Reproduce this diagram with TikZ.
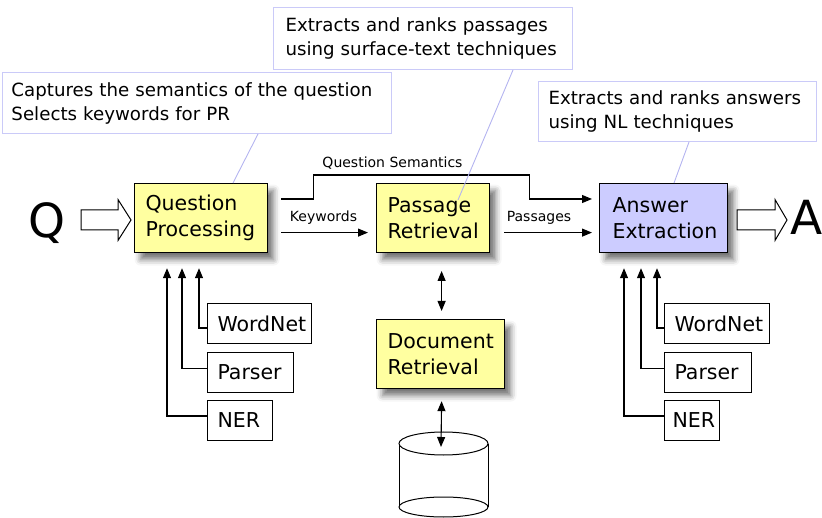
\documentclass[tikz,border=0pt]{standalone}
\usepackage{fontspec}
\setmainfont{DejaVu Sans}
\usetikzlibrary{arrows.meta,calc,shadows.blur}
\definecolor{boxyellow}{HTML}{FFFFA0}
\definecolor{boxblue}{HTML}{CCCCFF}
\definecolor{callline}{HTML}{CACAF8}
\definecolor{pointline}{HTML}{B4B4F0}
\hyphenpenalty=10000
\exhyphenpenalty=10000
\tikzset{
  procbox/.style={draw=black, line width=1.2pt, align=left, inner ysep=0pt,
    minimum height=69pt, anchor=north west,
    font=\fontsize{20.5}{26}\selectfont,
    blur shadow={shadow xshift=6pt, shadow yshift=-7pt, shadow blur radius=6pt, shadow opacity=55}},
  resbox/.style={draw=black, line width=1pt, align=left, inner ysep=0pt,
    minimum height=40pt, anchor=north west, font=\fontsize{20.5}{24}\selectfont},
  callout/.style={draw=callline, line width=1pt, align=left, inner ysep=0pt,
    anchor=north west, fill=white, font=\fontsize{18.2}{24}\selectfont},
  flow/.style={line width=1.1pt, -{Triangle[length=10pt,width=8pt]}},
  biflow/.style={line width=1.1pt, {Triangle[length=10pt,width=8pt]}-{Triangle[length=10pt,width=8pt]}},
  pointer/.style={draw=pointline, line width=0.9pt},
  blockarrow/.style={draw=black, line width=1pt, fill=white, line join=miter},
  lbl/.style={font=\fontsize{14}{16}\selectfont, inner sep=0pt, anchor=base},
  bigletter/.style={font=\fontsize{47}{50}\selectfont, inner sep=0pt, anchor=base}
}
\begin{document}
\hyphenpenalty=10000
\exhyphenpenalty=10000
\begin{tikzpicture}[x=1pt,y=-1pt]
\useasboundingbox (0,0) rectangle (822,518);

% callouts
\node[callout, text width=371pt, inner xsep=9pt, minimum height=61pt] (c1) at (2,72)
  {Captures the semantics of the question\\Selects keywords for PR};
\node[callout, text width=281pt, inner xsep=9pt, minimum height=62pt] (c2) at (273,7)
  {\hspace*{3pt}Extracts and ranks passages\\\hspace*{3pt}using surface-text techniques};
\node[callout, text width=264pt, inner xsep=7pt, minimum height=60pt] (c3) at (538,81)
  {\hspace*{3pt}Extracts and ranks answers\\\hspace*{3pt}using NL techniques};

% main boxes
\node[procbox, fill=boxyellow, inner xsep=11pt, text width=111pt] (qp) at (134,183) {Question\\Processing};
\node[procbox, fill=boxyellow, inner xsep=11pt, text width=91pt] (pr) at (376,183) {Passage\\Retrieval};
\node[procbox, fill=boxblue, inner xsep=13pt, text width=102pt] (ae) at (599,183) {Answer\\Extraction};
\node[procbox, fill=boxyellow, inner xsep=11pt, text width=106pt] (dr) at (376,319) {Document\\Retrieval};

% Q and A
\node[bigletter] (q) at (46.5,238) {Q};
\node[bigletter, anchor=base west] (a) at (790,235) {A};
\draw[blockarrow] (81,210) -- (118,210) -- (118,199.5) -- (131,220) -- (118,240.5) -- (118,230) -- (81,230) -- cycle;
\draw[blockarrow] (737,210) -- (775,210) -- (775,199.5) -- (787,220) -- (775,240.5) -- (775,230) -- (737,230) -- cycle;

% flows between boxes
\draw[flow] ($(qp.north east)+(13,16)$) -- ++(32,0) -- ++(0,-24) -| ($(pr.north east)+(39,16)$)
  -- ($(ae.north west)+(-7,16)$);
\node[lbl] (qslbl) at (392.5,168) {Question Semantics};
\draw[flow] ($(qp.east)+(13,14.5)$) -- ($(pr.west)+(-8,14.5)$);
\node[lbl] (kwlbl) at (323.5,222) {Keywords};
\draw[flow] ($(pr.east)+(14,14.5)$) -- ($(ae.west)+(-7,14.5)$);
\node[lbl] (pslbl) at (539,222) {Passages};

% passage <-> document
\draw[biflow] ($(dr.north)+(1,-48)$) -- ($(dr.north)+(1,-8)$);

% database cylinder
\coordinate (db) at (443.5,443.5);
\fill[white] (399,443.5) rectangle (488,507);
\draw[line width=1pt] (399,443.5) -- (399,507);
\draw[line width=1pt] (488,443.5) -- (488,507);
\draw[line width=1pt, fill=white] (443.5,507) ellipse [x radius=44.5pt, y radius=10pt];
\draw[line width=1pt, fill=white] (db) ellipse [x radius=44.5pt, y radius=11.5pt];
\draw[biflow] ($(dr.south)+(1,12)$) -- ($(db)+(-2.5,3.5)$);

% resources left
\node[resbox, inner xsep=10pt, text width=84pt] (wnL) at (207,303) {WordNet};
\node[resbox, inner xsep=10pt, text width=66pt] (paL) at (207,352) {Parser};
\node[resbox, inner xsep=10pt, text width=45pt] (neL) at (207,400) {NER};
\draw[flow] ($(wnL.west)+(0,4.5)$) -| ($(qp.south west)+(65,15)$);
\draw[flow] ($(paL.west)+(0,-4)$) -| ($(qp.south west)+(48,15)$);
\draw[flow] ($(neL.west)+(0,-4.5)$) -| ($(qp.south west)+(33,15)$);

% resources right
\node[resbox, inner xsep=10pt, text width=85pt] (wnR) at (664,303) {WordNet};
\node[resbox, inner xsep=10pt, text width=67pt] (paR) at (664,352) {Parser};
\node[resbox, inner xsep=8pt, text width=39pt] (neR) at (664,400) {NER};
\draw[flow] ($(wnR.west)+(0,4.5)$) -| ($(ae.south west)+(58,15)$);
\draw[flow] ($(paR.west)+(0,-4)$) -| ($(ae.south west)+(42,15)$);
\draw[flow] ($(neR.west)+(0,-4.5)$) -| ($(ae.south west)+(25,15)$);

% callout pointers
\draw[pointer] ($(c1.south west)+(256,0)$) -- ($(qp.north west)+(99,0)$);
\draw[pointer] ($(c2.south west)+(240,0)$) -- ($(pr.north west)+(82,17)$);
\draw[pointer] ($(c3.south west)+(151,0)$) -- ($(ae.north west)+(75,0)$);
\end{tikzpicture}
\end{document}
